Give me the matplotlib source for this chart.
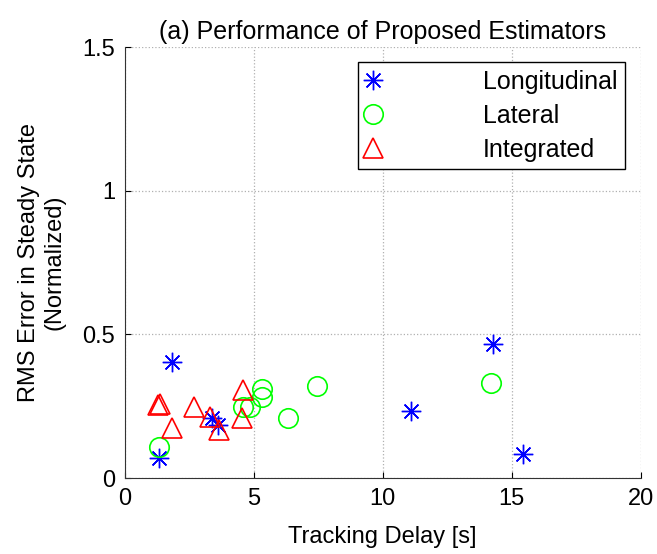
import matplotlib
matplotlib.use("Agg")
from matplotlib import pyplot as plt

# values (tracking delay [s], normalized RMS error)
long_x = [1.82, 1.34, 3.37, 3.63, 11.10, 14.29, 15.43]
long_y = [0.405, 0.069, 0.208, 0.185, 0.235, 0.467, 0.083]

lat_x = [1.34, 4.60, 4.85, 5.31, 5.31, 6.34, 7.44, 14.19]
lat_y = [0.107, 0.246, 0.246, 0.310, 0.281, 0.208, 0.321, 0.330]

int_x = [1.30, 1.38, 1.82, 2.70, 3.31, 3.65, 4.60, 4.56]
int_y = [0.255, 0.258, 0.173, 0.248, 0.214, 0.167, 0.307, 0.208]

xticks = [0, 5, 10, 15, 20]
yticks = [0, 0.5, 1, 1.5]
yticklabels = ['0', '0.5', '1', '1.5']

plt.rcParams['font.family'] = ['Liberation Sans', 'DejaVu Sans']

fig = plt.figure(figsize=(6.57, 5.54), dpi=100)
ax = fig.add_axes([0.19, 0.137, 0.785, 0.778])

# MATLAB style asterisk: 8 spokes
ax.plot(long_x, long_y, linestyle='none', marker=(8, 2, 0), markersize=14,
        markeredgewidth=1.0, color=(0, 0, 1), label='Longitudinal')
ax.plot(lat_x, lat_y, linestyle='none', marker='o', markersize=14,
        markerfacecolor='none', markeredgewidth=1.2, color=(0, 1, 0), label='Lateral')
ax.plot(int_x, int_y, linestyle='none', marker='^', markersize=14,
        markerfacecolor='none', markeredgewidth=1.2, color=(1, 0, 0), label='Integrated')

ax.set_xlim(0, 20)
ax.set_ylim(0, 1.5)
ax.set_xticks(xticks)
ax.set_yticks(yticks)
ax.set_yticklabels(yticklabels)
ax.tick_params(direction='in', labelsize=17, length=4, pad=7)
ax.grid(True, linestyle=':', color='#b0b0b0', linewidth=0.9)
for s in ['top', 'right']:
    ax.spines[s].set_visible(False)
for s in ['left', 'bottom']:
    ax.spines[s].set_color('#333333')

ax.set_xlabel('Tracking Delay [s]', fontsize=17, labelpad=12)
ax.set_ylabel('RMS Error in Steady State\n(Normalized)', fontsize=17, labelpad=12)
ax.set_title('(a) Performance of Proposed Estimators', fontsize=18, pad=6)

leg = ax.legend(loc='upper right', bbox_to_anchor=(0.97, 0.965), fontsize=18,
                fancybox=False, edgecolor='black', framealpha=1,
                handlelength=0.6, handletextpad=4.1, labelspacing=0.4,
                borderpad=0.3, borderaxespad=0)
leg.get_frame().set_linewidth(1.0)

fig.savefig('out.png', dpi=100)
